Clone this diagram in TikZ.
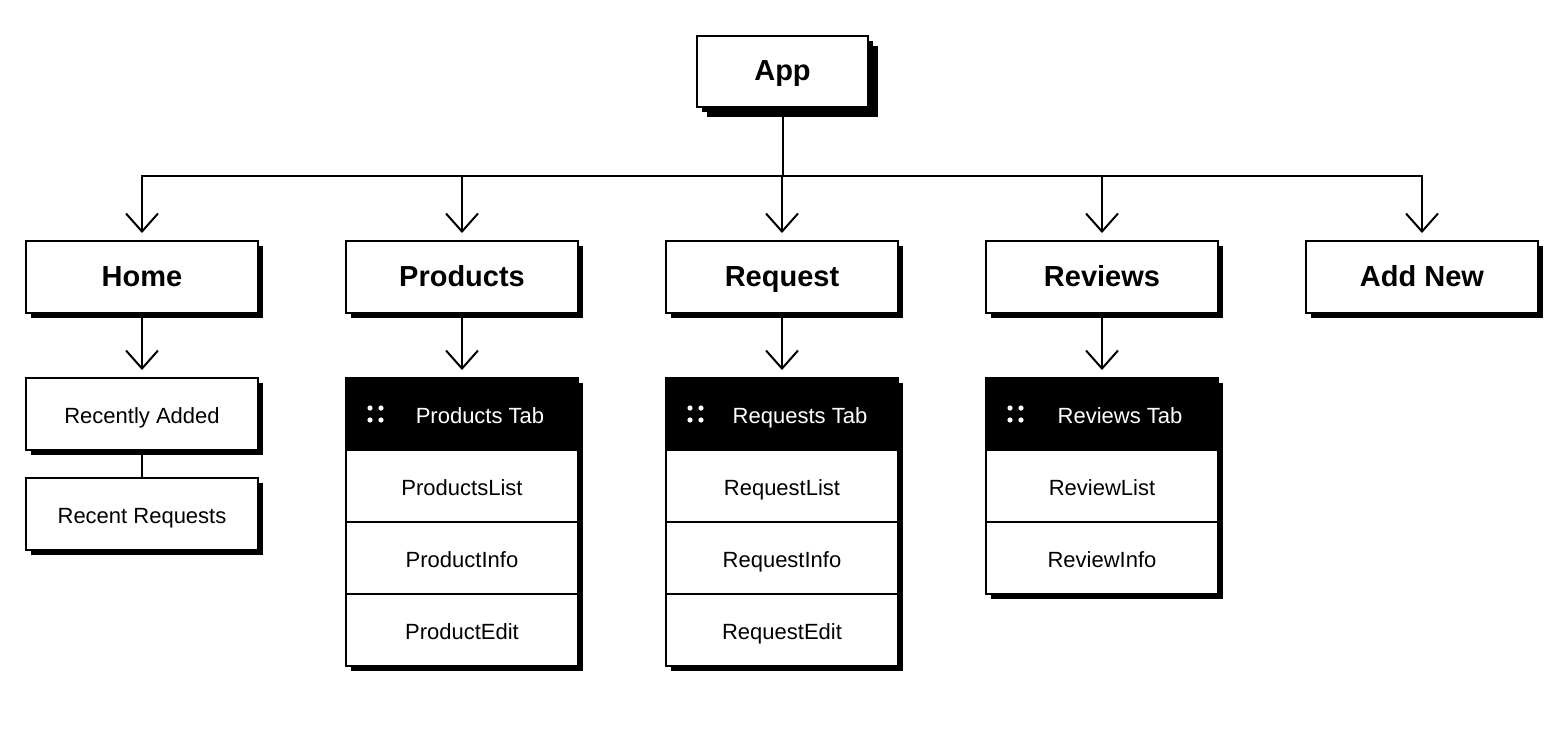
\documentclass[tikz,border=0pt]{standalone}
\usepackage{fontspec}
\setmainfont{Liberation Sans}
\usepackage{tikz}
\usetikzlibrary{arrows.meta, positioning, calc, shadows}

\definecolor{inkblack}{RGB}{0, 0, 0}
\definecolor{paperwhite}{RGB}{255, 255, 255}

\tikzset{
  pagebox/.style={draw=inkblack, line width=1pt, fill=paperwhite, outer sep=0pt,
    minimum width=116pt, minimum height=36pt, text height=2ex, text depth=0.25ex,
    font=\fontsize{14.5}{16}\selectfont\bfseries,
    drop shadow={shadow xshift=2.5pt, shadow yshift=-2.5pt, opacity=1, fill=inkblack}},
  appbox/.style={pagebox, minimum width=85.5pt, minimum height=35.5pt,
    drop shadow={shadow xshift=5pt, shadow yshift=-5pt, opacity=1, fill=inkblack}},
  itembox/.style={pagebox, font=\fontsize{11}{13}\selectfont},
  tabhead/.style={itembox, fill=inkblack},
  tabtext/.style={text=paperwhite, font=\fontsize{11}{13}\selectfont, inner sep=0pt,
    text height=2ex, text depth=0.25ex},
  conn/.style={draw=inkblack, line width=1pt},
  arr/.style={conn, -{Straight Barb[length=9pt, width=16pt, line width=1pt]}, shorten >=4pt},
}

\begin{document}
\begin{tikzpicture}[x=0.5pt, y=-0.5pt]
  \useasboundingbox (0,0) rectangle (1565,735);

  % Root
  \node[appbox] (app) at (782.5, 71.5) {App};
  \coordinate (bus) at (782.5, 176);

  % Level one
  \node[pagebox] (home) at (142, 277) {Home};
  \node[pagebox] (prod) at (462, 277) {Products};
  \node[pagebox] (req) at (782, 277) {Request};
  \node[pagebox] (rev) at (1102, 277) {Reviews};
  \node[pagebox] (addnew) at (1422, 277) {Add New};

  \foreach \n in {home, prod, req, rev, addnew} {
    \draw[arr] (app.south) -- (app.south |- bus) -| (\n.north);
  }

  % Home
  \node[itembox] (recadd) at (142, 414) {Recently Added};
  \node[itembox] (recreq) at (142, 514) {Recent Requests};
  \draw[arr] (home) -- (recadd);
  \draw[conn] (recadd) -- (recreq);

  % Products
  \node[tabhead] (ptab) at (462, 414) {};
  \node[itembox, below=0pt of ptab] (plist) {ProductsList};
  \node[itembox, below=0pt of plist] (pinfo) {ProductInfo};
  \node[itembox, below=0pt of pinfo] (pedit) {ProductEdit};
  \node[tabtext] (ptabl) at ([xshift=9pt]ptab.center) {Products Tab};
  \draw[arr] (prod) -- (ptab);

  % Request
  \node[tabhead] (qtab) at (782, 414) {};
  \node[itembox, below=0pt of qtab] (qlist) {RequestList};
  \node[itembox, below=0pt of qlist] (qinfo) {RequestInfo};
  \node[itembox, below=0pt of qinfo] (qedit) {RequestEdit};
  \node[tabtext] (qtabl) at ([xshift=9pt]qtab.center) {Requests Tab};
  \draw[arr] (req) -- (qtab);

  % Reviews
  \node[tabhead] (vtab) at (1102, 414) {};
  \node[itembox, below=0pt of vtab] (vlist) {ReviewList};
  \node[itembox, below=0pt of vlist] (vinfo) {ReviewInfo};
  \node[tabtext] (vtabl) at ([xshift=9pt]vtab.center) {Reviews Tab};
  \draw[arr] (rev) -- (vtab);

  % Tab handles
  \foreach \t in {ptab, qtab, vtab} {
    \foreach \dx in {12pt, 17.5pt} {
      \foreach \dy in {-3pt, 3pt} {
        \fill[paperwhite] ([xshift=\dx, yshift=\dy]\t.west) circle (1.3pt);
      }
    }
  }
\end{tikzpicture}
\end{document}
